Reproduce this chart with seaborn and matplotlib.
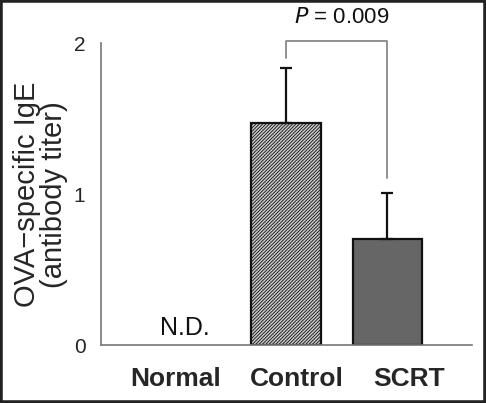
import numpy as np
import pandas as pd
import matplotlib
matplotlib.use('Agg')
import matplotlib.pyplot as plt
import matplotlib.transforms as mtransforms
from matplotlib.patches import Rectangle
import seaborn as sns

sns.set_style('white')
plt.rcParams['font.family'] = ['Liberation Sans', 'DejaVu Sans']
plt.rcParams['hatch.color'] = '#666666'
plt.rcParams['hatch.linewidth'] = 0.6

groups = ['Normal', 'Control', 'SCRT']
ige_mean = [0.0, 1.47, 0.70]
ige_sd = [0.0, 0.365, 0.31]
p_text = '0.009'

df = pd.DataFrame({'group': groups, 'ige': ige_mean})

fig = plt.figure(figsize=(4.86, 4.03), dpi=100)
ax = fig.add_axes([0.2072, 0.1439, 0.7634, 0.7486])

sns.barplot(data=df, x='group', y='ige', hue='group', order=groups,
            palette={'Normal': 'white', 'Control': '#c8c8c8', 'SCRT': '#666666'},
            errorbar=None, width=0.68, legend=False, ax=ax,
            edgecolor='#111111', linewidth=1.6)

for patch, g in zip(ax.patches, groups):
    if g == 'Normal':
        patch.set_visible(False)
    if g == 'Control':
        patch.set_hatch('//////////')

x = np.arange(len(groups))
ax.errorbar(x[1:], ige_mean[1:], yerr=[[0, 0], ige_sd[1:]], fmt='none',
            ecolor='#111111', elinewidth=1.6, capsize=4.5, capthick=1.6)

# N.D. for the normal group
ax.text(0.0, 0.03, 'N.D.', ha='center', va='bottom', fontsize=18, color='#111111')

# significance bracket
tops = [m + s for m, s in zip(ige_mean, ige_sd)]
bk = 2.015
ax.plot([1, 1, 2, 2], [tops[1] + 0.07, bk, bk, tops[2] + 0.1],
        color='#888888', lw=1.3, clip_on=False)
ax.text(1.55, 2.1, r'$\it{P}$ = ' + p_text, ha='center', va='bottom',
        fontsize=16, color='#111111')

ax.set_ylim(0, 2)
ax.set_xlim(-0.826, 2.83)
ax.set_yticks([0, 1, 2])
ax.set_yticklabels(['0', '1', '2'], fontsize=15)
ax.set_xticks(x)
ax.set_xticklabels(groups, fontsize=19, fontweight='bold')
ax.tick_params(axis='x', length=0, pad=16)
ax.tick_params(axis='y', length=4, width=1, color='#777777', pad=7, direction='out')
ax.set_xlabel('')
ax.set_ylabel('OVA\u2212specific IgE\n(antibody titer)', fontsize=21,
              linespacing=0.95, labelpad=4)

# the group names sit a bit spread out compared with the bars
for lab, dx in zip(ax.get_xticklabels(), [-9, 11, 22]):
    lab.set_transform(lab.get_transform() +
                      mtransforms.ScaledTranslation(dx / 100, 0, fig.dpi_scale_trans))

sns.despine(ax=ax)
for s in ['left', 'bottom']:
    ax.spines[s].set_color('#777777')
    ax.spines[s].set_linewidth(1.2)

# dark frame round the picture
fig.patches.append(Rectangle((0, 0), 1, 1, transform=fig.transFigure,
                             fill=False, edgecolor='#222222', linewidth=4))

fig.savefig('out.png', dpi=100)
